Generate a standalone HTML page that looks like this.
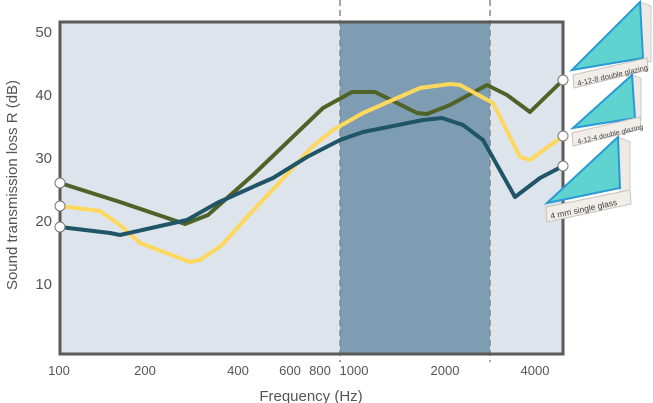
<!DOCTYPE html>
<html><head><meta charset="utf-8"><style>
html,body{margin:0;padding:0;background:#fff;}
svg{display:block;font-family:"Liberation Sans",sans-serif;}
</style></head><body>
<svg width="653" height="403" viewBox="0 0 653 403" xmlns="http://www.w3.org/2000/svg">
<rect x="60" y="22" width="503" height="332" fill="#dde4ec"/>
<rect x="340" y="22" width="150" height="332" fill="#7f9db2"/>
<line x1="340" y1="0" x2="340" y2="362" stroke="#888" stroke-width="1.5" stroke-dasharray="6,4"/>
<line x1="490" y1="0" x2="490" y2="362" stroke="#888" stroke-width="1.5" stroke-dasharray="6,4"/>
<rect x="60" y="22" width="503" height="332" fill="none" stroke="#5a5a5a" stroke-width="3"/>
<g fill="none" stroke-width="4" stroke-linejoin="round">
<polyline stroke="#4f6228" points="60,183 120,202 185,224 208,215 253,175 323,108 352,92 375,92 417,113 427,114 450,105 487,85 507,95 530,112 563,80"/>
<polyline stroke="#fdd85d" points="60,206 100,211 120,225 140,243 190,262 200,260 222,245 247,217 280,182 312,147 333,130 363,113 420,88 450,84 460,85 493,103 520,157 530,160 563,136"/>
<polyline stroke="#1f5566" points="60,227 110,233 120,235 187,220 217,203 257,185 273,178 307,157 340,140 363,132 423,120 442,118 463,125 483,140 515,197 540,178 563,166"/>
</g>
<g fill="#fff" stroke="#777" stroke-width="1">
<circle cx="60" cy="183" r="5"/><circle cx="60" cy="206" r="5"/><circle cx="60" cy="227" r="5"/>
<circle cx="563" cy="80" r="5"/><circle cx="563" cy="136" r="5"/><circle cx="563" cy="166" r="5"/>
</g>
<g font-size="15" fill="#555" text-anchor="end">
<text x="52" y="37">50</text><text x="52" y="100">40</text><text x="52" y="163">30</text><text x="52" y="226">20</text><text x="52" y="289">10</text>
</g>
<g font-size="13" fill="#555" text-anchor="middle">
<text x="59" y="375">100</text><text x="145" y="375">200</text><text x="238" y="375">400</text><text x="290" y="375">600</text><text x="320" y="375">800</text><text x="354" y="375">1000</text><text x="445" y="375">2000</text><text x="535" y="375">4000</text>
</g>
<text x="311" y="401" font-size="15" fill="#555" text-anchor="middle">Frequency (Hz)</text>
<text transform="translate(17,185) rotate(-90)" font-size="15" fill="#555" text-anchor="middle">Sound transmission loss R (dB)</text>
<!-- glass panels -->
<g>
<polygon points="640,2 651,6 651,62 640,60" fill="#eee9e4" stroke="#ccc"/>
<polygon points="572,70 640,2 643,58" fill="#5fd3cf" stroke="#2a9ad6" stroke-width="2"/>
<polygon points="573,75 647,58 648,70 574,88" fill="#f1ede8" stroke="#c8c2bb"/>
<text transform="translate(578,86) rotate(-13)" font-size="7.5" fill="#444">4-12-8 double glazing</text>

<polygon points="632,75 641,78 641,120 632,120" fill="#eee9e4" stroke="#ccc"/>
<polygon points="573,128 632,75 635,118" fill="#5fd3cf" stroke="#2a9ad6" stroke-width="2"/>
<polygon points="572,133 640,117 641,129 573,146" fill="#f1ede8" stroke="#c8c2bb"/>
<text transform="translate(578,144) rotate(-13)" font-size="7" fill="#444">4-12-4 double glazing</text>

<polygon points="618,137 630,142 630,195 620,195" fill="#eee9e4" stroke="#ccc"/>
<polygon points="547,203 618,137 620,188" fill="#5fd3cf" stroke="#2a9ad6" stroke-width="2"/>
<polygon points="546,207 630,190 631,204 547,222" fill="#f1ede8" stroke="#c8c2bb"/>
<text transform="translate(551,219) rotate(-12)" font-size="8.5" fill="#444">4 mm single glass</text>
</g>
</svg>
</body></html>
